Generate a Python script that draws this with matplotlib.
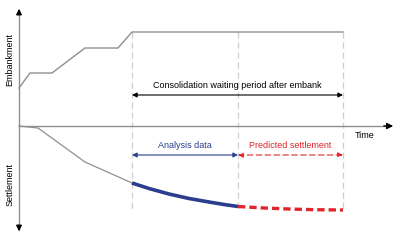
import matplotlib.pyplot as plt

# schematic: time vs embankment height (up) / settlement (down)
fill_t = [0, 11, 33, 66, 99, 113, 324]
fill_h = [38, 53, 53, 78, 78, 94, 94]

early_t = [0, 19, 66, 113]
early_s = [0, -2, -36, -57]

analysis_t = [113, 130, 150, 170, 190, 205, 219]
analysis_s = [-57, -62.5, -68, -72.5, -76, -78.5, -80.5]

predict_t = [219, 245, 270, 295, 324]
predict_s = [-80.5, -82, -83, -83.7, -84]

t_fill_end, t_split, t_end = 113, 219, 324

gray = "#8f8f8f"
blue = "#2a3d8f"
red = "#e0262a"
dash = "#cfcfcf"

fig = plt.figure(figsize=(4, 2.4), dpi=100)
ax = fig.add_axes([0, 0, 1, 1])
ax.set_xlim(-19, 381)
ax.set_ylim(-114, 126)
ax.axis("off")

# axes with arrows
ax.plot([0, 0], [-104, 116], color=gray, lw=1)
ax.plot([0, 370], [0, 0], color=gray, lw=1)
ax.annotate("", xy=(0, 120), xytext=(0, 110),
            arrowprops=dict(arrowstyle="-|>", color="black", lw=1, mutation_scale=8))
ax.annotate("", xy=(0, -108), xytext=(0, -98),
            arrowprops=dict(arrowstyle="-|>", color="black", lw=1, mutation_scale=8))
ax.annotate("", xy=(377, 0), xytext=(362, 0),
            arrowprops=dict(arrowstyle="-|>", color="black", lw=1, mutation_scale=9))

# guide lines
for t in [t_fill_end, t_split, t_end]:
    ax.plot([t, t], [94, -84], color=dash, lw=0.9, ls=(0, (5, 3)), zorder=0)

ax.plot(fill_t, fill_h, color=gray, lw=1)
ax.plot(early_t, early_s, color=gray, lw=0.9)
ax.plot(analysis_t, analysis_s, color=blue, lw=2.6, solid_capstyle="butt")
ax.plot(predict_t, predict_s, color=red, lw=2.4, ls=(0, (2.2, 1.2)))

# period arrows
ax.annotate("", xy=(t_fill_end, 31), xytext=(t_end, 31),
            arrowprops=dict(arrowstyle="<|-|>", color="black", lw=0.8, mutation_scale=7,
                            shrinkA=0, shrinkB=0))
ax.text((t_fill_end + t_end) / 2, 36, "Consolidation waiting period after embank",
        ha="center", va="bottom", fontsize=6.5, family="Liberation Sans")

ax.annotate("", xy=(t_fill_end, -29), xytext=(t_split, -29),
            arrowprops=dict(arrowstyle="<|-|>", color=blue, lw=0.8, mutation_scale=7,
                            shrinkA=0, shrinkB=0))
ax.text(166, -24, "Analysis data", ha="center", va="bottom", fontsize=6.5,
        color=blue, family="Liberation Sans")

ax.annotate("", xy=(t_split, -29), xytext=(t_end, -29),
            arrowprops=dict(arrowstyle="<|-|>", color=red, lw=0.8, mutation_scale=7,
                            shrinkA=0, shrinkB=0, linestyle=(0, (5, 3))))
ax.text(271, -24, "Predicted settlement", ha="center", va="bottom", fontsize=6.5,
        color=red, family="Liberation Sans")

ax.text(346, -9, "Time", ha="center", va="center", fontsize=6.5, family="Liberation Sans")
ax.text(-9, 66, "Embankment", rotation=90, ha="center", va="center", fontsize=6.5,
        family="Liberation Sans")
ax.text(-9, -59, "Settlement", rotation=90, ha="center", va="center", fontsize=6.5,
        family="Liberation Sans")

fig.savefig("out.png", dpi=100)
